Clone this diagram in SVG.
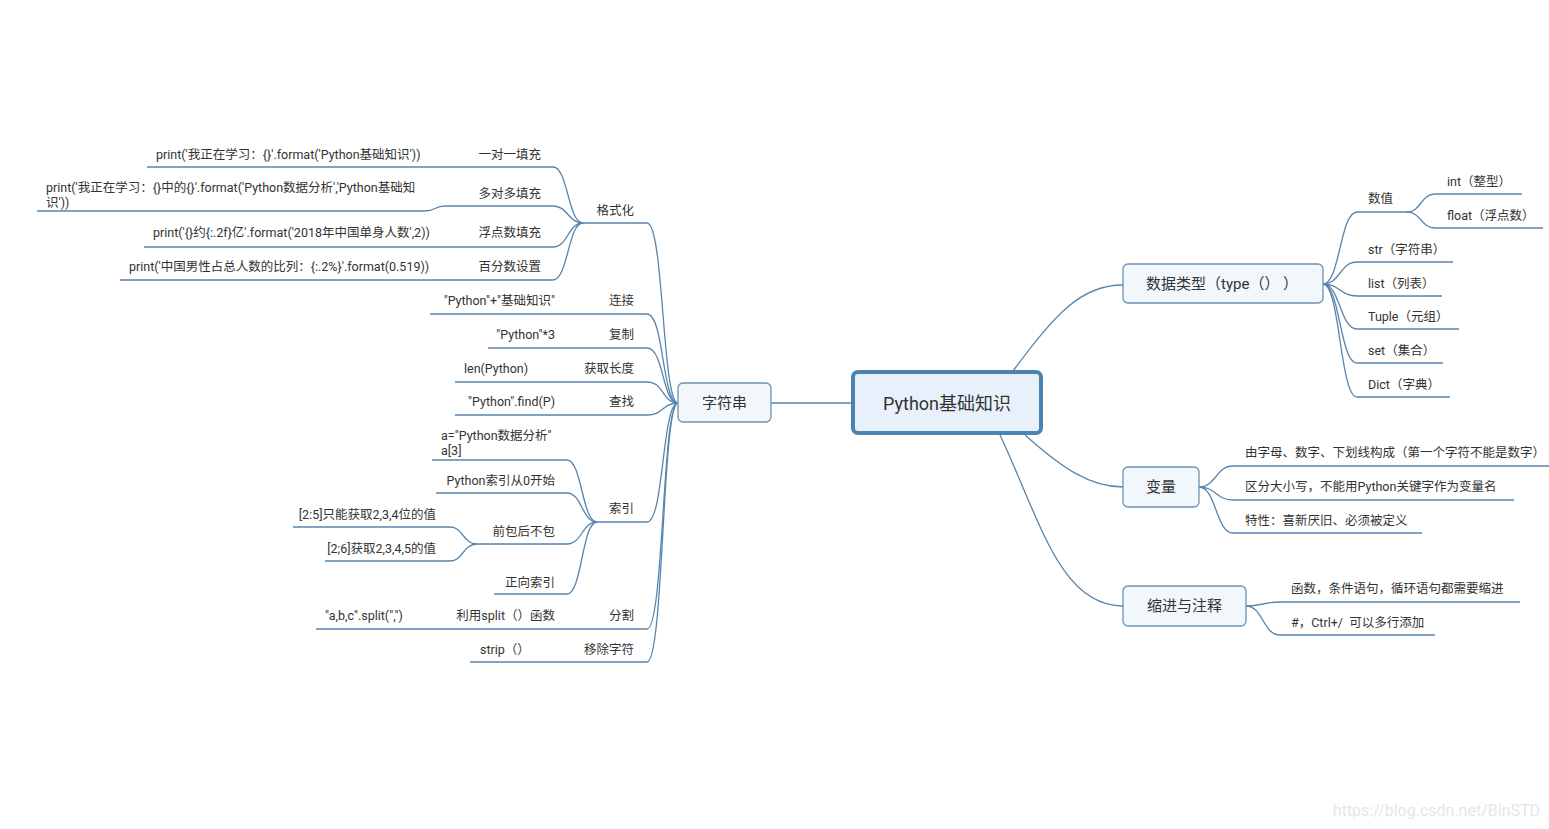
<svg xmlns="http://www.w3.org/2000/svg" width="1549" height="829" viewBox="0 0 1549 829">
<style>
text{font-family:Roboto,"Noto Sans","Noto Sans CJK SC",sans-serif;fill:#333;dominant-baseline:central}
.t{font-size:12.5px}
.n{font-size:15px;text-anchor:middle}
.e{text-anchor:end}
.c path{fill:none;stroke:#5885ad;stroke-width:1.3}
.box{fill:#f2f7fc;stroke:#6a93b6;stroke-width:1.3}
</style>
<rect width="1549" height="829" fill="#fff"/>
<g class="c" id="connectors">
<path d="M771,403 H852"/>
<path d="M1013,371 C1055,315 1080,285 1123,285"/>
<path d="M1025,435 C1062,468 1090,487 1123,487"/>
<path d="M1000,435 C1040,520 1060,606 1123,606"/>
<path d="M678,403 C662,403 664,223 647,223 L583,223"/>
<path d="M678,403 C662,403 664,314 647,314 L430,314"/>
<path d="M678,403 C662,403 664,348 647,348 L488,348"/>
<path d="M678,403 C662,403 664,382 647,382 L455,382"/>
<path d="M678,403 C662,403 664,415 647,415 L455,415"/>
<path d="M678,403 C662,403 664,522 647,522 L597,522"/>
<path d="M678,403 C662,403 664,629 647,629 L316,629"/>
<path d="M678,403 C662,403 664,662 647,662 L470,662"/>
<path d="M583,223 C568,223 568,167 553,167 L147,167"/>
<path d="M583,223 C568,223 568,206 553,206 L445,206 C435,206 435,211 425,211 L37,211"/>
<path d="M583,223 C568,223 568,247 553,247 L144,247"/>
<path d="M583,223 C568,223 568,280 553,280 L120,280"/>
<path d="M597,522 C582,522 582,460 567,460 L432,460"/>
<path d="M597,522 C582,522 582,493 567,493 L436,493"/>
<path d="M597,522 C582,522 582,544 567,544 L477,544"/>
<path d="M597,522 C582,522 582,594 567,594 L494,594"/>
<path d="M477,544 C463,544 463,527 450,527 L293,527"/>
<path d="M477,544 C463,544 463,561 450,561 L325,561"/>
<path d="M1323,284 C1340,284 1340,212 1357,212 L1407,212"/>
<path d="M1407,212 C1421,212 1421,194 1435,194 L1522,194"/>
<path d="M1407,212 C1421,212 1421,228 1435,228 L1543,228"/>
<path d="M1323,284 C1340,284 1340,262 1357,262 L1453,262"/>
<path d="M1323,284 C1340,284 1340,296 1357,296 L1442,296"/>
<path d="M1323,284 C1340,284 1340,329 1357,329 L1459,329"/>
<path d="M1323,284 C1340,284 1340,363 1357,363 L1443,363"/>
<path d="M1323,284 C1340,284 1340,397 1357,397 L1450,397"/>
<path d="M1199,487 C1216,487 1216,466 1233,466 L1549,466"/>
<path d="M1199,487 C1216,487 1216,500 1233,500 L1514,500"/>
<path d="M1199,487 C1216,487 1216,533 1233,533 L1422,533"/>
<path d="M1246,606 C1263,606 1263,602 1280,602 L1520,602"/>
<path d="M1246,606 C1263,606 1263,635 1280,635 L1435,635"/>
</g>
<g id="root">
<rect x="853" y="372" width="188" height="61" rx="5" fill="#e8f1fb" stroke="#4d83b0" stroke-width="4"/>
<text x="947" y="403" style="font-size:18px;text-anchor:middle">Python基础知识</text>
</g>
<g id="n-string">
<rect class="box" x="678" y="383" width="93" height="39" rx="5"/>
<text class="n" x="724.5" y="403">字符串</text>
</g>
<g id="n-type">
<rect class="box" x="1123" y="264" width="200" height="39" rx="5"/>
<text x="1146" y="284" style="font-size:15px" xml:space="preserve">数据类型（type（）&#160;）</text>
</g>
<g id="n-var">
<rect class="box" x="1123" y="467" width="76" height="40" rx="5"/>
<text class="n" x="1161" y="487">变量</text>
</g>
<g id="n-indent">
<rect class="box" x="1123" y="586" width="123" height="40" rx="5"/>
<text class="n" x="1184.5" y="606">缩进与注释</text>
</g>
<g id="n-format">
<text class="t e" x="634" y="210">格式化</text>
<text class="t e" x="541" y="154">一对一填充</text>
<text class="t" x="156" y="154">print('我正在学习：{}'.format('Python基础知识'))</text>
<text class="t e" x="541" y="193">多对多填充</text>
<text class="t" x="46" y="187">print('我正在学习：{}中的{}'.format('Python数据分析','Python基础知</text>
<text class="t" x="46" y="202">识'))</text>
<text class="t e" x="541" y="232">浮点数填充</text>
<text class="t" x="153" y="232">print('{}约{:.2f}亿'.format('2018年中国单身人数',2))</text>
<text class="t e" x="541" y="266">百分数设置</text>
<text class="t" x="129" y="266">print('中国男性占总人数的比列：{:.2%}'.format(0.519))</text>
</g>
<g id="n-concat">
<text class="t e" x="634" y="300">连接</text>
<text class="t e" x="555" y="300">"Python"+"基础知识"</text>
</g>
<g id="n-copy">
<text class="t e" x="634" y="334">复制</text>
<text class="t e" x="555" y="334">"Python"*3</text>
</g>
<g id="n-len">
<text class="t e" x="634" y="368">获取长度</text>
<text class="t" x="464" y="368">len(Python)</text>
</g>
<g id="n-find">
<text class="t e" x="634" y="401">查找</text>
<text class="t e" x="555" y="401">"Python".find(P)</text>
</g>
<g id="n-index">
<text class="t e" x="634" y="508">索引</text>
<text class="t" x="441" y="435">a="Python数据分析"</text>
<text class="t" x="441" y="450">a[3]</text>
<text class="t e" x="555" y="480">Python索引从0开始</text>
<text class="t e" x="555" y="531">前包后不包</text>
<text class="t e" x="436" y="514">[2:5]只能获取2,3,4位的值</text>
<text class="t e" x="436" y="548">[2;6]获取2,3,4,5的值</text>
<text class="t e" x="555" y="582">正向索引</text>
</g>
<g id="n-split">
<text class="t e" x="634" y="615">分割</text>
<text class="t e" x="555" y="615">利用split（）函数</text>
<text class="t" x="325" y="615">"a,b,c".split(",")</text>
</g>
<g id="n-strip">
<text class="t e" x="634" y="649">移除字符</text>
<text class="t" x="480" y="649">strip（）</text>
</g>
<g id="n-types">
<text class="t" x="1368" y="198">数值</text>
<text class="t" x="1447" y="181">int（整型）</text>
<text class="t" x="1447" y="215">float（浮点数）</text>
<text class="t" x="1368" y="249">str（字符串）</text>
<text class="t" x="1368" y="283">list（列表）</text>
<text class="t" x="1368" y="316">Tuple（元组）</text>
<text class="t" x="1368" y="350">set（集合）</text>
<text class="t" x="1368" y="384">Dict（字典）</text>
</g>
<g id="n-vars">
<text class="t" x="1245" y="452">由字母、数字、下划线构成（第一个字符不能是数字）</text>
<text class="t" x="1245" y="486">区分大小写，不能用Python关键字作为变量名</text>
<text class="t" x="1245" y="520">特性：喜新厌旧、必须被定义</text>
</g>
<g id="n-indents">
<text class="t" x="1291" y="588">函数，条件语句，循环语句都需要缩进</text>
<text class="t" x="1291" y="622">#，Ctrl+/&#160; 可以多行添加</text>
</g>
<text x="1540" y="810" style="font-size:16px;fill:#e6e6e6;text-anchor:end">https://blog.csdn.net/BinSTD</text>
</svg>
